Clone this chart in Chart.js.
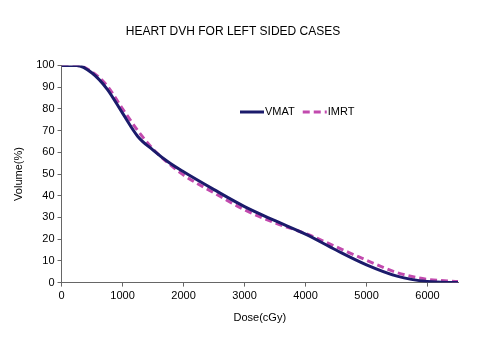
<!DOCTYPE html>
<html>
<head>
<meta charset="utf-8">
<script src="https://cdn.jsdelivr.net/npm/chart.js@4/dist/chart.umd.min.js"></script>
<style>
  html, body { margin: 0; padding: 0; background: #fff; }
  #wrap { width: 480px; height: 348px; }
</style>
</head>
<body>
<div id="wrap"><canvas id="dvh" width="480" height="348"></canvas></div>
<script>
// dose (cGy) sample points
var doses = [0, 250, 500, 750, 1000, 1250, 1500, 1750, 2000, 2500, 3000, 3500, 4000, 4500, 5000, 5500, 6000, 6500];
var vmatVolume = [100, 100, 96.5, 89, 78, 67.3, 61, 55.5, 51, 42.8, 35, 28.5, 22.3, 15, 8.2, 3, 0.5, 0];
var imrtVolume = [100, 100, 97, 90.5, 80, 70, 61.5, 55, 49.5, 41.3, 33.5, 27.5, 22.6, 16.5, 10.3, 4.6, 1.5, 0.5];
var seriesNames = ['VMAT', 'IMRT'];
var doseTicks = [0, 1000, 2000, 3000, 4000, 5000, 6000];

function toPoints(xs, ys) {
    return xs.map(function (x, i) { return { x: x, y: ys[i] }; });
}

// legend sits inside the plot, like the original
const insideLegend = {
    id: 'insideLegend',
    afterDraw(chart) {
        const ctx = chart.ctx;
        const y = 112;
        let x = 240;
        ctx.save();
        ctx.font = '11px "Liberation Sans", Arial, sans-serif';
        ctx.textBaseline = 'middle';
        chart.data.datasets.forEach(function (ds) {
            ctx.beginPath();
            ctx.strokeStyle = ds.borderColor;
            ctx.lineWidth = ds.borderWidth;
            ctx.setLineDash(ds.borderDash || []);
            ctx.moveTo(x, y);
            ctx.lineTo(x + 24, y);
            ctx.stroke();
            ctx.setLineDash([]);
            ctx.fillStyle = '#000';
            ctx.fillText(ds.label, x + 25, y);
            x += 25 + ctx.measureText(ds.label).width + 8;
        });
        ctx.restore();
    }
};

const dvhConfig = {
    type: 'line',
    data: {
        datasets: [{
            label: seriesNames[0],
            data: toPoints(doses, vmatVolume),
            borderColor: '#1b1b6b',
            borderWidth: 3,
            pointRadius: 0,
            cubicInterpolationMode: 'monotone',
            fill: false
        }, {
            label: seriesNames[1],
            data: toPoints(doses, imrtVolume),
            borderColor: '#c24aae',
            borderWidth: 3,
            borderDash: [7, 4],
            pointRadius: 0,
            cubicInterpolationMode: 'monotone',
            fill: false
        }]
    },
    options: {
        responsive: false,
        animation: false,
        layout: { padding: { left: 8, right: 22, top: 0, bottom: 19 } },
        plugins: {
            legend: { display: false },
            tooltip: { enabled: false },
            title: {
                display: true,
                text: 'HEART DVH FOR LEFT SIDED CASES',
                color: '#000',
                font: { family: '"Liberation Sans", Arial, sans-serif', size: 12, weight: 'normal' },
                padding: { top: 24, bottom: 27 }
            }
        },
        scales: {
            x: {
                type: 'linear',
                min: 0,
                max: 6500,
                afterBuildTicks: function (axis) {
                    axis.ticks = doseTicks.map(function (v) { return { value: v }; });
                },
                border: { color: '#666', width: 1 },
                grid: { drawOnChartArea: false, drawTicks: true, tickLength: 4, color: '#666' },
                ticks: {
                    color: '#000',
                    maxRotation: 0,
                    padding: 3,
                    callback: function (v) { return String(v); },
                    font: { family: '"Liberation Sans", Arial, sans-serif', size: 11 }
                },
                title: {
                    display: true,
                    text: 'Dose(cGy)',
                    color: '#000',
                    padding: { top: 6 },
                    font: { family: '"Liberation Sans", Arial, sans-serif', size: 11 }
                }
            },
            y: {
                min: 0,
                max: 100,
                border: { color: '#666', width: 1 },
                grid: { drawOnChartArea: false, drawTicks: true, tickLength: 4, color: '#666' },
                ticks: {
                    stepSize: 10,
                    color: '#000',
                    padding: 3,
                    font: { family: '"Liberation Sans", Arial, sans-serif', size: 11 }
                },
                title: {
                    display: true,
                    text: 'Volume(%)',
                    color: '#000',
                    padding: { bottom: 8 },
                    font: { family: '"Liberation Sans", Arial, sans-serif', size: 11 }
                }
            }
        }
    },
    plugins: [insideLegend]
};

const dvhChart = new Chart(document.getElementById('dvh'), dvhConfig);
</script>
</body>
</html>
